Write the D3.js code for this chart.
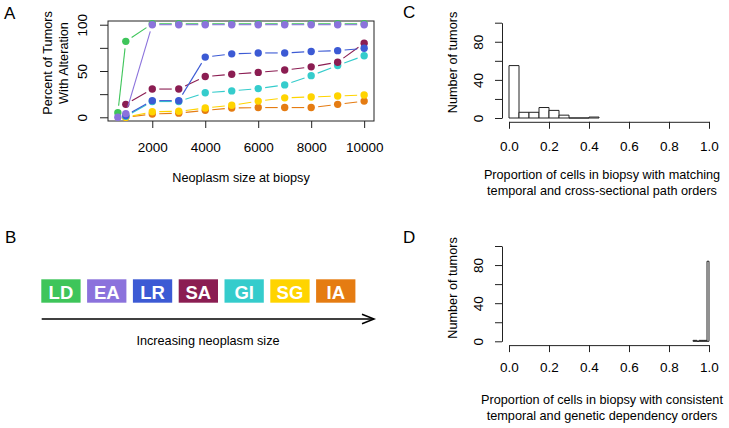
<!DOCTYPE html>
<html><head><meta charset="utf-8">
<script src="https://cdn.jsdelivr.net/npm/d3@7"></script>
<style>
html,body{margin:0;padding:0;background:#fff;}
svg{display:block;font-family:"Liberation Sans",Arial,Helvetica,sans-serif;}
</style></head>
<body>
<svg id="c" width="729" height="428"></svg>
<script>
// ---------- Data ----------
const sizes = [700, 1000, 2000, 3000, 4000, 5000, 6000, 7000, 8000, 9000, 10000];
const stages = ["LD", "EA", "LR", "SA", "GI", "SG", "IA"];
const stageColors = ["#3ec55a", "#8b72dc", "#3c5ad4", "#8b1d52", "#35cccc", "#ffd400", "#e57c12"];
const LD = [5, 82, 101, 101, 101, 101, 101, 101, 101, 101, 101];
const EA = [0, 4, 100, 100, 100, 100, 100, 100, 100, 100, 100];
const LR = [null, 2, 18, 18, 65, 68.5, 69.5, 69.5, 71, 72, 74.5];
const SA = [null, 14, 30.5, 30.5, 44, 46.5, 48.5, 51, 54.5, 59.5, 80];
const GI = [null, 1, 17, 17, 26.5, 28.5, 31, 35, 45, 56, 66.5];
const SG = [null, 0, 6, 6.5, 10, 13, 17.5, 21, 22, 23, 24];
const IA = [null, 0, 3.5, 4.5, 7.5, 10, 10.5, 10.5, 10.5, 14, 17.5];
const yTicksA = [0, 25, 50, 75, 100];
const yLabelsA = [0, 50, 100];
const xTicksA = [2000, 4000, 6000, 8000, 10000];

const histCEdges = [0, 0.05, 0.1, 0.15, 0.2, 0.25, 0.3, 0.35, 0.4, 0.45];
const histCCounts = [55, 6, 6, 11, 8, 3, 0, 0, 1];
const histDEdges = [0.92, 0.93, 0.94, 0.95, 0.96, 0.97, 0.98, 0.99, 1.0];
const histDCounts = [1, 1, 0, 1, 1, 1, 1, 84];
const histXTicks = [0, 0.2, 0.4, 0.6, 0.8, 1.0];
const histYTicks = [0, 20, 40, 60, 80, 100];
const histYLabels = [0, 40, 80];

const svg = d3.select("#c");
const FS = 12.7, TFS = 13.5, AXC = "#222";

// ---------- Panel A ----------
const seriesA = {LD, EA, LR, SA, GI, SG, IA};
const xExt = d3.extent(sizes), xPad = 0.04 * (xExt[1] - xExt[0]);
const xA = d3.scaleLinear().domain([xExt[0] - xPad, xExt[1] + xPad]).range([108, 374]);
const yA = d3.scaleLinear().domain([-4, 104]).range([121, 21]);
const gA = svg.append("g");
gA.append("rect").attr("x", 108).attr("y", 21).attr("width", 266).attr("height", 100)
  .attr("fill", "none").attr("stroke", AXC).attr("stroke-width", 1);
const axA = gA.append("g").attr("transform", "translate(108,0)")
  .call(d3.axisLeft(yA).tickValues(yTicksA).tickSize(8).tickSizeOuter(0)
    .tickFormat(d => yLabelsA.includes(d) ? d : ""));
axA.select(".domain").remove();
axA.selectAll("line").attr("stroke", AXC);
axA.selectAll("text").attr("x", null).attr("dy", null)
  .attr("transform", "translate(-21,0) rotate(-90)").attr("text-anchor", "middle")
  .attr("font-size", TFS).attr("font-family", null).attr("fill", "#000");
const axAx = gA.append("g").attr("transform", "translate(0,121)")
  .call(d3.axisBottom(xA).tickValues(xTicksA).tickSize(7).tickSizeOuter(0).tickFormat(d3.format("d")));
axAx.select(".domain").remove();
axAx.selectAll("line").attr("stroke", AXC);
axAx.selectAll("text").attr("y", 31).attr("dy", null).attr("font-size", TFS).attr("font-family", null).attr("fill", "#000");
gA.append("text").attr("x", 241).attr("y", 182).attr("text-anchor", "middle").attr("font-size", FS)
  .text("Neoplasm size at biopsy");
gA.append("text").attr("transform", "translate(52.3,63) rotate(-90)").attr("text-anchor", "middle")
  .attr("font-size", FS).text("Percent of Tumors");
gA.append("text").attr("transform", "translate(68,63) rotate(-90)").attr("text-anchor", "middle")
  .attr("font-size", FS).text("With Alteration");

const drawOrder = ["IA", "SG", "GI", "SA", "LR", "LD", "EA"];
const gap = 7;
drawOrder.forEach(name => {
  const vals = seriesA[name];
  const col = stageColors[stages.indexOf(name)];
  const pts = sizes.map((s, i) => vals[i] == null ? null : [xA(s), yA(vals[i])]);
  const g = gA.append("g");
  for (let i = 0; i < pts.length - 1; i++) {
    const p0 = pts[i], p1 = pts[i + 1];
    if (!p0 || !p1) continue;
    const dx = p1[0] - p0[0], dy = p1[1] - p0[1], L = Math.hypot(dx, dy);
    if (L <= 2 * gap) continue;
    const ux = dx / L, uy = dy / L;
    g.append("line").attr("x1", p0[0] + ux * gap).attr("y1", p0[1] + uy * gap)
      .attr("x2", p1[0] - ux * gap).attr("y2", p1[1] - uy * gap)
      .attr("stroke", col).attr("stroke-width", 1.1);
  }
  g.selectAll("circle").data(pts.filter(p => p)).join("circle")
    .attr("cx", d => d[0]).attr("cy", d => d[1]).attr("r", 3.7).attr("fill", col);
});

// ---------- Panel B ----------
const xB = d3.scaleBand().domain(stages).range([41.3, 355.4]).paddingInner(0.142).paddingOuter(0);
const gB = svg.append("g");
stages.forEach((s, i) => {
  gB.append("rect").attr("x", xB(s)).attr("y", 279.3).attr("width", xB.bandwidth()).attr("height", 23.4)
    .attr("fill", stageColors[i]);
  gB.append("text").attr("x", xB(s) + xB.bandwidth() / 2).attr("y", 299.3).attr("text-anchor", "middle")
    .attr("font-size", 18.5).attr("font-weight", "bold").attr("fill", "#fff").text(s);
});
gB.append("line").attr("x1", 41.7).attr("y1", 319).attr("x2", 373.5).attr("y2", 319)
  .attr("stroke", "#000").attr("stroke-width", 1.5);
gB.append("path").attr("d", "M362,314.3 L374,319 L362,323.7").attr("fill", "none")
  .attr("stroke", "#000").attr("stroke-width", 1.5);
gB.append("text").attr("x", 208).attr("y", 345).attr("text-anchor", "middle").attr("font-size", FS)
  .text("Increasing neoplasm size");

// ---------- Histograms ----------
const xH = d3.scaleLinear().domain([0, 1]).range([509, 709]);
function histo(y0px, y100px, edges, counts, title1, title2, tickBase, t1, t2, ycenter) {
  const yH = d3.scaleLinear().domain([0, 100]).range([y0px, y100px]);
  const g = svg.append("g");
  const axY = g.append("g").attr("transform", "translate(502,0)")
    .call(d3.axisLeft(yH).tickValues(histYTicks).tickSize(7).tickSizeOuter(0)
      .tickFormat(d => histYLabels.includes(d) ? d : ""));
  axY.select(".domain").attr("stroke", AXC);
  axY.selectAll("line").attr("stroke", AXC);
  axY.selectAll("text").attr("x", null).attr("dy", null)
    .attr("transform", "translate(-19,0) rotate(-90)").attr("text-anchor", "middle")
    .attr("font-size", TFS).attr("font-family", null).attr("fill", "#000");
  const axLineY = y0px + 0.04 * (y0px - y100px);
  const axX = g.append("g").attr("transform", `translate(0,${axLineY})`)
    .call(d3.axisBottom(xH).tickValues(histXTicks).tickSize(7).tickSizeOuter(0).tickFormat(d3.format(".1f")));
  axX.select(".domain").attr("stroke", AXC);
  axX.selectAll("line").attr("stroke", AXC);
  axX.selectAll("text").attr("y", tickBase - axLineY).attr("dy", null).attr("font-size", TFS)
    .attr("font-family", null).attr("fill", "#000");
  counts.forEach((c, i) => {
    const x0 = xH(edges[i]), x1 = xH(edges[i + 1]), yb = yH(0), yt = yH(c);
    g.append("path").attr("d", `M${x0},${yb}V${yt}H${x1}V${yb}Z`)
      .attr("fill", "#fff").attr("stroke", "#222").attr("stroke-width", 1);
  });
  g.append("text").attr("transform", `translate(457,${ycenter}) rotate(-90)`).attr("text-anchor", "middle")
    .attr("font-size", FS).text("Number of tumors");
  g.append("text").attr("x", 602).attr("y", t1).attr("text-anchor", "middle").attr("font-size", FS).text(title1);
  g.append("text").attr("x", 602).attr("y", t2).attr("text-anchor", "middle").attr("font-size", FS).text(title2);
}
histo(118, 22.7, histCEdges, histCCounts,
  "Proportion of cells in biopsy with matching", "temporal and cross-sectional path orders",
  151, 178.5, 194.5, 62.5);
histo(341.3, 246, histDEdges, histDCounts,
  "Proportion of cells in biopsy with consistent", "temporal and genetic dependency orders",
  372, 404, 420, 288);

// ---------- Panel letters ----------
[["A", 4, 19], ["B", 5, 243], ["C", 403, 18], ["D", 403, 243]].forEach(([t, x, y]) => {
  svg.append("text").attr("x", x).attr("y", y).attr("font-size", 17).text(t);
});
</script>
</body></html>
